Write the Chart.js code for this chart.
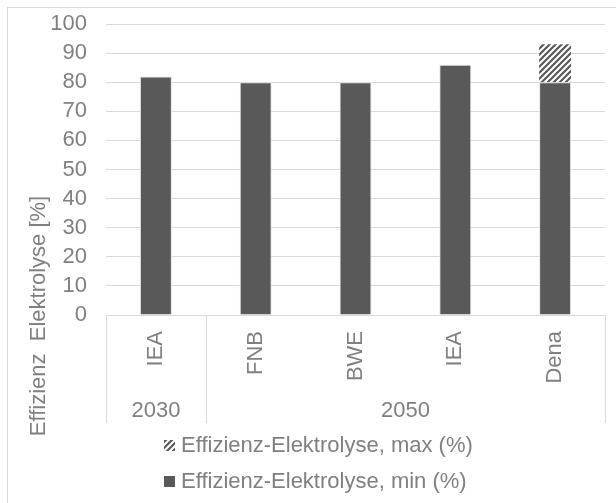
<!DOCTYPE html>
<html>
<head>
<meta charset="utf-8">
<script src="https://cdn.jsdelivr.net/npm/chart.js@4.4.1/dist/chart.umd.min.js"></script>
<style>
    html, body { margin: 0; padding: 0; background: #fff; }
</style>
</head>
<body>
<canvas id="chart" width="616" height="503"></canvas>
<script>
const categories = ['IEA', 'FNB', 'BWE', 'IEA', 'Dena'];
const groupLabels = ['2030', '2050'];
const groupSizes = [1, 4];
const minValues = [82, 80, 80, 86, 80];
const maxExtra = [0, 0, 0, 0, 13];   // max minus min, stacked on top
const seriesNames = ['Effizienz-Elektrolyse, min (%)', 'Effizienz-Elektrolyse, max (%)'];
const yTitle = 'Effizienz  Elektrolyse [%]';

const FONT = 'Liberation Sans, Arial, sans-serif';
const TEXT = '#808080';
const LINE = '#d9d9d9';
const BAR = '#595959';

const canvas = document.getElementById('chart');
const ctx = canvas.getContext('2d');

function makeHatch() {
    const c = document.createElement('canvas');
    c.width = 6;
    c.height = 6;
    const g = c.getContext('2d');
    g.fillStyle = '#fff';
    g.fillRect(0, 0, 6, 6);
    g.strokeStyle = BAR;
    g.lineWidth = 2.2;
    g.beginPath();
    g.moveTo(-1, 7); g.lineTo(7, -1);
    g.moveTo(-4, 4); g.lineTo(4, -4);
    g.moveTo(2, 10); g.lineTo(10, 2);
    g.stroke();
    return ctx.createPattern(c, 'repeat');
}
const hatch = makeHatch();

const extras = {
    id: 'extras',
    beforeDraw(chart) {
        const c = chart.ctx;
        c.save();
        c.strokeStyle = LINE;
        c.lineWidth = 1;
        c.strokeRect(7.5, 7.5, 640, 520);
        c.restore();
    },
    afterDraw(chart) {
        const c = chart.ctx;
        const area = chart.chartArea;
        const x = chart.scales.x;
        const half = (x.getPixelForValue(1) - x.getPixelForValue(0)) / 2;
        const boxBottom = area.bottom + 108;

        c.save();
        // category box lines
        c.strokeStyle = LINE;
        c.lineWidth = 1;
        c.beginPath();
        let idx = 0;
        const edges = [area.left];
        groupSizes.forEach(n => {
            idx += n;
            edges.push(idx >= categories.length ? area.right : x.getPixelForValue(idx - 1) + half);
        });
        edges.forEach(px => {
            const xx = Math.round(px) + 0.5;
            c.moveTo(xx, area.bottom);
            c.lineTo(xx, boxBottom);
        });
        c.stroke();

        // group labels
        c.fillStyle = TEXT;
        c.font = '22px ' + FONT;
        c.textAlign = 'center';
        c.textBaseline = 'middle';
        idx = 0;
        groupLabels.forEach((lab, i) => {
            const from = x.getPixelForValue(idx) - half;
            idx += groupSizes[i];
            const to = x.getPixelForValue(idx - 1) + half;
            c.fillText(lab, (from + to) / 2, area.bottom + 96);
        });

        // y axis title
        c.save();
        c.translate(39, 316);
        c.rotate(-Math.PI / 2);
        c.fillText(yTitle, 0, 0);
        c.restore();

        // legend, reversed order like the stack
        c.textAlign = 'left';
        const ds = chart.data.datasets;
        const rows = [446, 482];
        [1, 0].forEach((d, r) => {
            c.fillStyle = ds[d].backgroundColor;
            c.fillRect(164, rows[r] - 6, 11, 11);
            c.fillStyle = TEXT;
            c.fillText(ds[d].label, 181, rows[r]);
        });
        c.restore();
    }
};

new Chart(ctx, {
    type: 'bar',
    data: {
        labels: categories,
        datasets: [
            {
                label: seriesNames[0],
                data: minValues,
                backgroundColor: BAR,
                borderColor: '#e0e0e0',
                borderWidth: 1,
                barPercentage: 0.32,
                categoryPercentage: 1
            },
            {
                label: seriesNames[1],
                data: maxExtra,
                backgroundColor: hatch,
                borderWidth: 0,
                barPercentage: 0.32,
                categoryPercentage: 1
            }
        ]
    },
    options: {
        responsive: false,
        animation: false,
        layout: {
            padding: { top: 24, right: 11, left: 0, bottom: 80 }
        },
        plugins: {
            legend: { display: false },
            tooltip: { enabled: false }
        },
        scales: {
            x: {
                stacked: true,
                grid: { display: false, drawTicks: false },
                border: { display: false },
                ticks: {
                    minRotation: 90,
                    maxRotation: 90,
                    autoSkip: false,
                    padding: 16,
                    color: TEXT,
                    font: { size: 22, family: FONT }
                },
                afterFit: s => {
                    s.height = 108;
                    s.paddingLeft = 0;
                    s.paddingRight = 0;
                }
            },
            y: {
                stacked: true,
                min: 0,
                max: 100,
                ticks: {
                    stepSize: 10,
                    autoSkip: false,
                    padding: 19,
                    color: TEXT,
                    font: { size: 22, family: FONT }
                },
                grid: { color: LINE, drawTicks: false },
                border: { display: false },
                afterFit: s => {
                    s.width = 106;
                    s.paddingTop = 0;
                    s.paddingBottom = 0;
                }
            }
        }
    },
    plugins: [extras]
});
</script>
</body>
</html>
